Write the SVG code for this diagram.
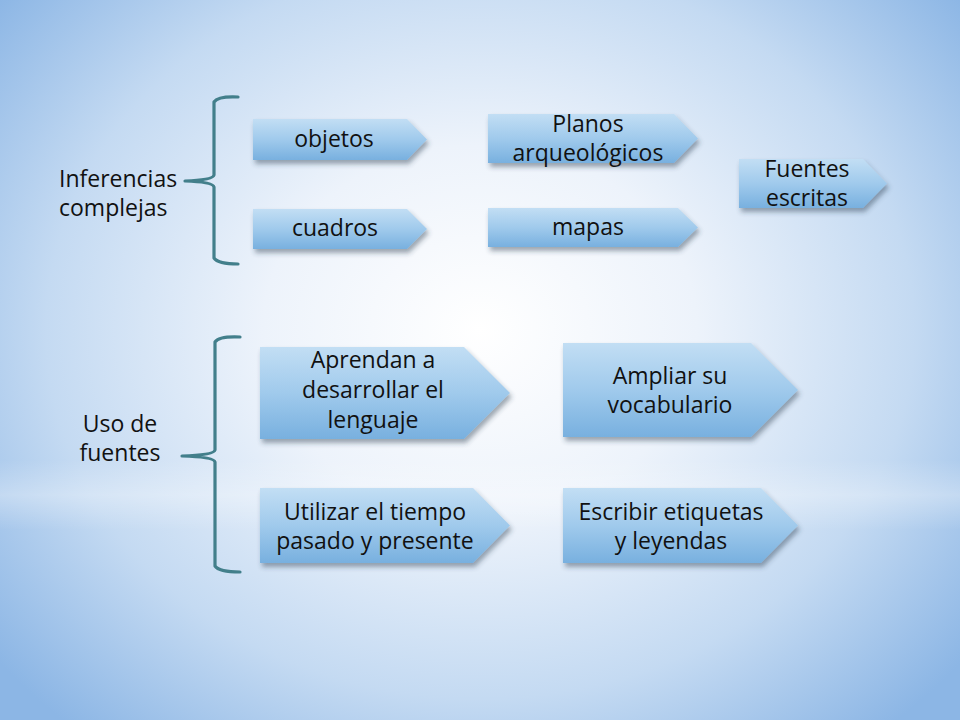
<svg xmlns="http://www.w3.org/2000/svg" width="960" height="720" viewBox="0 0 960 720">
<defs>
<radialGradient id="bg" cx="480" cy="330" r="620" gradientUnits="userSpaceOnUse" gradientTransform="translate(480 330) scale(1 0.85) translate(-480 -330)">
<stop offset="0" stop-color="#ffffff"/>
<stop offset="0.35" stop-color="#edf3fb"/>
<stop offset="0.7" stop-color="#c4daf2"/>
<stop offset="1" stop-color="#8cb6e5"/>
</radialGradient>
<linearGradient id="band" x1="0" y1="0" x2="0" y2="1">
<stop offset="0" stop-color="#ffffff" stop-opacity="0"/>
<stop offset="0.5" stop-color="#ffffff" stop-opacity="0.3"/>
<stop offset="1" stop-color="#ffffff" stop-opacity="0"/>
</linearGradient>
<linearGradient id="box" x1="0" y1="0" x2="0" y2="1">
<stop offset="0" stop-color="#c2def4"/>
<stop offset="0.5" stop-color="#a0caec"/>
<stop offset="1" stop-color="#78b0df"/>
</linearGradient>
<filter id="sh" x="-10%" y="-20%" width="130%" height="160%">
<feDropShadow dx="2" dy="4" stdDeviation="2.5" flood-color="#2a3f55" flood-opacity="0.45"/>
</filter>
<style>
.b{fill:url(#box);filter:url(#sh);}
.t{font-family:"Open Sans","Liberation Sans",sans-serif;font-size:23px;fill:#111;text-anchor:middle;}
.l{font-family:"Open Sans","Liberation Sans",sans-serif;font-size:23px;fill:#111;}
.br{fill:none;stroke:#427f8b;stroke-width:3.2;stroke-linecap:round;stroke-linejoin:round;}
</style>
</defs>
<rect width="960" height="720" fill="url(#bg)"/>
<rect x="0" y="460" width="960" height="70" fill="url(#band)"/>

<g id="connectors">
<path class="br" d="M238 97 Q218 96 214 102 L214 175 Q213 180 185 181 Q213 182 214 187 L214 258 Q218 264 238 264"/>
<path class="br" d="M240 337 Q219 336 215 342 L215 450 Q214 455 182 456 Q214 457 215 462 L215 566 Q219 572 240 572"/>
</g>

<g id="inferencias">
<text class="l" x="59" y="187">Inferencias</text>
<text class="l" x="59" y="216">complejas</text>
</g>
<g id="uso">
<text class="t" x="120" y="432">Uso de</text>
<text class="t" x="120" y="461">fuentes</text>
</g>

<g id="objetos">
<path class="b" d="M253 119 H407 L427 139.5 L407 160 H253 Z"/>
<text class="t" x="334" y="147">objetos</text>
</g>
<g id="cuadros">
<path class="b" d="M253 209 H407 L427 229 L407 249 H253 Z"/>
<text class="t" x="335" y="236">cuadros</text>
</g>
<g id="planos">
<path class="b" d="M488 114 H674 L698 138.5 L674 163 H488 Z"/>
<text class="t" x="588" y="132">Planos</text>
<text class="t" x="588" y="161">arqueológicos</text>
</g>
<g id="mapas">
<path class="b" d="M488 208 H678 L698 227.5 L678 247 H488 Z"/>
<text class="t" x="588" y="235">mapas</text>
</g>
<g id="fuentes">
<path class="b" d="M739 159 H863 L887 183.5 L863 208 H739 Z"/>
<text class="t" x="807" y="177">Fuentes</text>
<text class="t" x="807" y="206">escritas</text>
</g>
<g id="aprendan">
<path class="b" d="M260 347 H464 L510 393 L464 439 H260 Z"/>
<text class="t" x="373" y="368">Aprendan a</text>
<text class="t" x="373" y="398">desarrollar el</text>
<text class="t" x="373" y="428">lenguaje</text>
</g>
<g id="ampliar">
<path class="b" d="M563 343 H751 L798 390 L751 437 H563 Z"/>
<text class="t" x="670" y="384">Ampliar su</text>
<text class="t" x="670" y="413">vocabulario</text>
</g>
<g id="utilizar">
<path class="b" d="M260 488 H473 L510 525.5 L473 563 H260 Z"/>
<text class="t" x="375" y="520">Utilizar el tiempo</text>
<text class="t" x="375" y="549">pasado y presente</text>
</g>
<g id="escribir">
<path class="b" d="M563 488 H761 L798 525.5 L761 563 H563 Z"/>
<text class="t" x="671" y="520">Escribir etiquetas</text>
<text class="t" x="671" y="549">y leyendas</text>
</g>
</svg>
